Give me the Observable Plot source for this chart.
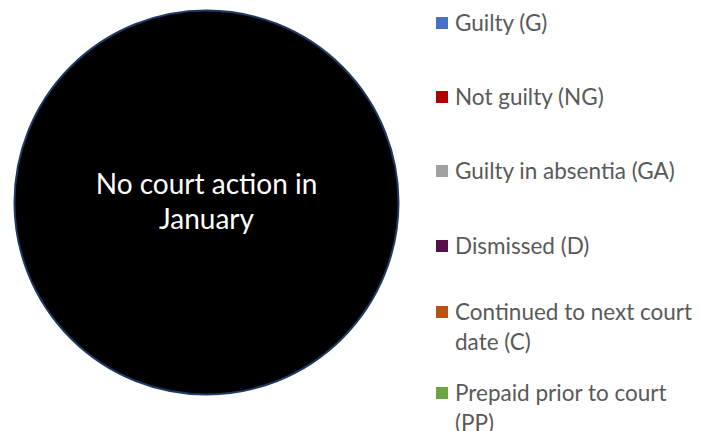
<!DOCTYPE html>
<html>
<head>
<meta charset="utf-8">
<script src="https://cdn.jsdelivr.net/npm/d3@7"></script>
<script src="https://cdn.jsdelivr.net/npm/@observablehq/plot@0.6"></script>
<style>
  html, body { margin: 0; padding: 0; background: #fff; }
  #wrap { position: relative; width: 702px; height: 431px; overflow: hidden; }
  #chart { position: absolute; left: 0; top: 0; }
  #legend { position: absolute; left: 436px; top: 8px; width: 264px;
            font-family: Lato, "Open Sans", sans-serif; font-size: 22.5px; color: #595959; }
  .item { display: flex; align-items: flex-start; line-height: 30px; }
  .sw { flex: none; width: 12px; height: 12px; margin-top: 9px; margin-right: 7px; }
</style>
</head>
<body>
<div id="wrap">
  <div id="chart"></div>
  <div id="legend"></div>
</div>
<script>
// Data
const categories = ["Guilty (G)", "Not guilty (NG)", "Guilty in absentia (GA)", "Dismissed (D)", "Continued to next court date (C)", "Prepaid prior to court (PP)"];
const categoryColors = ["#4472C4", "#B00000", "#A0A0A0", "#570F4A", "#BA5213", "#6AA342"];
const januaryCounts = [0, 0, 0, 0, 0, 0];
const emptyLabels = ["No court action in\nJanuary"];
const emptyValues = [1];

const emptySlice = emptyLabels.map((label, i) => ({label, value: emptyValues[i]}));

const chart = Plot.plot({
  width: 412,
  height: 404,
  margin: 0,
  x: {domain: [-1, 1], axis: null},
  y: {domain: [-1, 1], axis: null},
  r: {type: "sqrt", domain: [0, 1], range: [0, 192]},
  marks: [
    Plot.dot(emptySlice, {x: () => 0, y: () => 0, r: "value", fill: "black", stroke: "#1F3864", strokeWidth: 2}),
    Plot.text(emptySlice, {x: () => 0, y: () => 0, dy: -2.5, text: "label", fill: "white", fontSize: 28, lineHeight: 1.25, fontFamily: "Lato, sans-serif"})
  ]
});
document.getElementById("chart").appendChild(chart);

// Legend (layout gaps are presentation only)
const legendGaps = [44, 44, 45, 36, 21, 0];
const legend = document.getElementById("legend");
categories.forEach((c, i) => {
  const item = document.createElement("div");
  item.className = "item";
  item.style.marginBottom = legendGaps[i] + "px";
  const sw = document.createElement("div");
  sw.className = "sw";
  sw.style.background = categoryColors[i];
  const t = document.createElement("div");
  t.textContent = c;
  item.appendChild(sw);
  item.appendChild(t);
  legend.appendChild(item);
});
</script>
</body>
</html>
